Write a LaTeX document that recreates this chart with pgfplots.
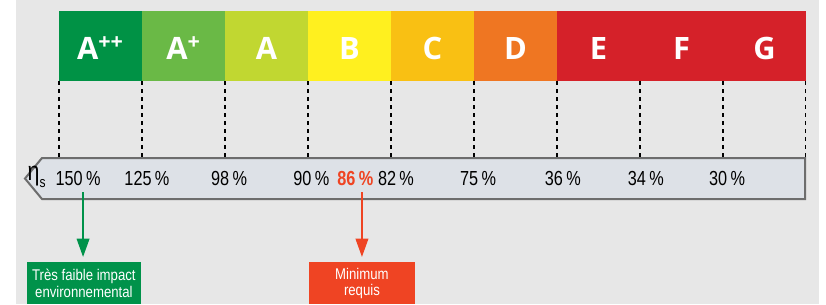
\documentclass[border=0pt]{standalone}
\usepackage{pgfplots}
\pgfplotsset{compat=1.18}
\usepackage{fontspec}
\usetikzlibrary{arrows.meta}
\setmainfont{Liberation Sans}
\newfontfamily\numfont[FakeStretch=0.8]{Liberation Sans}
\newfontfamily\boxfont[FakeStretch=0.85]{Liberation Sans}
\newfontfamily\classfont{Open Sans}
\definecolor{bg}{HTML}{E7E7E7}
\definecolor{cApp}{HTML}{009245}
\definecolor{cAp}{HTML}{6AB946}
\definecolor{cA}{HTML}{C1D731}
\definecolor{cB}{HTML}{FFF01F}
\definecolor{cC}{HTML}{F9C013}
\definecolor{cD}{HTML}{EF7622}
\definecolor{cE}{HTML}{D52129}
\definecolor{band}{HTML}{DDE1E7}
\definecolor{bandedge}{HTML}{6D6D6D}
\definecolor{gbox}{HTML}{00924A}
\definecolor{rbox}{HTML}{EF4423}
\begin{document}
\begin{tikzpicture}
\begin{axis}[
  scale only axis, width=495.6pt, height=182.4pt,
  xmin=-0.7108, xmax=9.241, ymin=0, ymax=304, y dir=reverse,
  hide axis, clip=false,
]
% page and background
\addplot[fill=white, draw=none] coordinates {(-0.7108,0) (9.241,0) (9.241,304) (-0.7108,304)} -- cycle;
\addplot[fill=bg, draw=none] coordinates {(-0.518,0) (9.157,0) (9.157,304) (-0.518,304)} -- cycle;
% class bars (x in class units, y in px)
\addplot[fill=cApp, draw=none] coordinates {(0,11) (1,11) (1,81) (0,81)} -- cycle;
\addplot[fill=cAp, draw=none] coordinates {(1,11) (2,11) (2,81) (1,81)} -- cycle;
\addplot[fill=cA, draw=none] coordinates {(2,11) (3,11) (3,81) (2,81)} -- cycle;
\addplot[fill=cB, draw=none] coordinates {(3,11) (4,11) (4,81) (3,81)} -- cycle;
\addplot[fill=cC, draw=none] coordinates {(4,11) (5,11) (5,81) (4,81)} -- cycle;
\addplot[fill=cD, draw=none] coordinates {(5,11) (6,11) (6,81) (5,81)} -- cycle;
\addplot[fill=cE, draw=none] coordinates {(6,11) (9,11) (9,81) (6,81)} -- cycle;
% dashed separators
\addplot[black, line width=0.8pt, dash pattern=on 2.4pt off 2.4pt, unbounded coords=jump] coordinates {
 (0,81) (0,158) (nan,nan) (1,81) (1,158) (nan,nan) (2,81) (2,158) (nan,nan)
 (3,81) (3,158) (nan,nan) (4,81) (4,158) (nan,nan) (5,81) (5,158) (nan,nan)
 (6,81) (6,158) (nan,nan) (7,81) (7,158) (nan,nan) (8,81) (8,158) (nan,nan)
 (8.99,81) (8.99,158)};
% band
\addplot[fill=band, draw=bandedge, line width=1.2pt] coordinates {(-0.205,158) (8.99,158) (8.99,199) (-0.205,199) (-0.41,178.5)} -- cycle;
% arrows
\addplot[gbox, line width=1.3pt, -{Triangle[width=7.5pt,length=11pt]}] coordinates {(0.29,192) (0.29,257)};
\addplot[rbox, line width=1.3pt, -{Triangle[width=7.5pt,length=11pt]}] coordinates {(3.65,192) (3.65,257)};
% boxes
\addplot[fill=gbox, draw=none] coordinates {(-0.386,262) (0.988,262) (0.988,304) (-0.386,304)} -- cycle;
\addplot[fill=rbox, draw=none] coordinates {(3.012,262) (4.289,262) (4.289,304) (3.012,304)} -- cycle;
% class letters
\foreach \i/\t in {0/A\textsuperscript{++},1/A\textsuperscript{+},2/A,3/B,4/C,5/D,6/E,7/F,8/G}{
  \edef\tmp{\noexpand\node[text=white, font=\noexpand\classfont\noexpand\bfseries\noexpand\fontsize{18.5pt}{20pt}\noexpand\selectfont] at (axis cs:\i+0.5,48) {\unexpanded\expandafter{\t}};}
  \tmp
}
% band labels
\node[font=\numfont\fontsize{16pt}{18pt}\selectfont] at (axis cs:-0.27,177) {η\raisebox{-0.45ex}{\fontsize{9pt}{10pt}\selectfont s}};
\foreach \x/\t in {0.23/150,1.06/125,2.05/98,3.04/90,4.06/82,5.05/75,6.07/36,7.07/34,8.05/30}{
  \edef\tmp{\noexpand\node[font=\noexpand\numfont\noexpand\fontsize{12.2pt}{14pt}\noexpand\selectfont] at (axis cs:\x,178.5) {\t\noexpand\,\noexpand\%};}
  \tmp
}
\node[text=rbox, font=\numfont\bfseries\fontsize{12.2pt}{14pt}\selectfont] at (axis cs:3.57,178.5) {86\,\%};
% box texts
\node[text=white, align=center, font=\boxfont\fontsize{9.3pt}{9.8pt}\selectfont] at (axis cs:0.3,283.5) {Très faible impact\\environnemental};
\node[text=white, align=center, font=\boxfont\fontsize{9.3pt}{9.8pt}\selectfont] at (axis cs:3.65,283.5) {Minimum\\requis};
\end{axis}
\end{tikzpicture}
\end{document}
